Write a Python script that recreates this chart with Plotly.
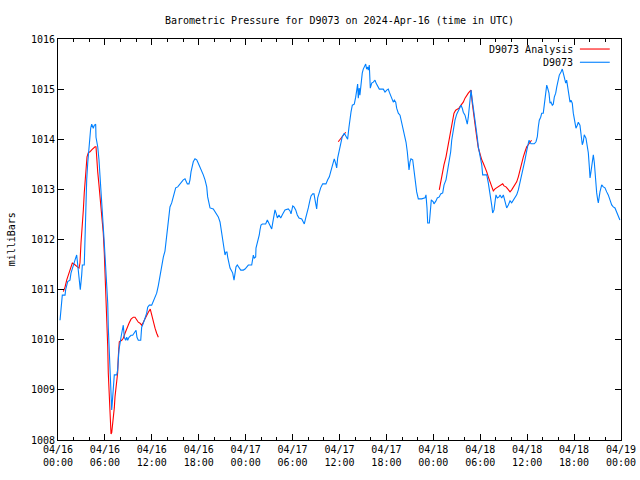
import pandas as pd
import plotly.graph_objects as go

# ---------------- data (hours since 2024-04-16 00:00 UTC, millibars) ----------------
blue_hours = [0.26, 0.47, 0.55, 0.90, 0.98, 1.24, 1.53, 1.66, 1.96, 2.17, 2.39, 2.52, 2.69, 2.81, 2.85,
              3.03, 3.11, 3.36, 3.45, 3.54, 3.67, 3.80, 3.96, 4.00, 4.18, 4.31, 4.51, 4.64, 4.82, 4.86,
              5.08, 5.24, 5.37, 5.50, 5.59, 5.79, 5.92, 6.10, 6.23, 6.36, 6.43, 6.56, 6.69, 6.78, 6.87,
              6.94, 7.07, 7.20, 7.51, 7.63, 7.80, 7.93, 8.06, 8.22, 8.35, 8.48, 8.66, 8.79, 8.91, 9.08,
              9.34, 9.55, 9.76, 9.98, 10.10, 10.27, 10.58, 10.70, 10.91, 11.13, 11.34, 11.47, 11.68, 11.98,
              12.19, 12.41, 12.62, 12.83, 13.04, 13.17, 13.26, 13.47, 13.68, 13.81, 13.90, 14.03, 14.19,
              14.32, 14.54, 14.75, 14.87, 15.05, 15.31, 15.60, 15.82, 16.02, 16.24, 16.37, 16.54, 16.75,
              16.88, 17.01, 17.18, 17.30, 17.52, 17.74, 17.94, 18.16, 18.38, 18.58, 18.80, 19.02, 19.14,
              19.31, 19.44, 19.86, 20.08, 20.30, 20.50, 20.72, 20.85, 21.01, 21.14, 21.27, 21.36, 21.49,
              21.61, 21.70, 21.87, 22.00, 22.21, 22.34, 22.51, 22.64, 22.76, 22.93, 23.15, 23.37, 23.70,
              23.92, 24.13, 24.34, 24.77, 24.90, 24.98, 25.10, 25.28, 25.32, 25.49, 25.62, 25.74, 25.83,
              25.96, 26.13, 26.56, 26.77, 26.95, 27.11, 27.33, 27.46, 27.62, 27.75, 27.88, 28.05, 28.26,
              28.48, 28.74, 29.03, 29.45, 29.67, 29.80, 30.02, 30.18, 30.40, 30.60, 30.82, 31.17, 31.37,
              31.50, 31.68, 31.80, 32.01, 32.23, 32.36, 32.57, 32.74, 32.87, 33.08, 33.21, 33.38, 33.59,
              33.85, 34.27, 34.49, 34.70, 34.87, 35.00, 35.13, 35.33, 35.51, 35.64, 35.77, 35.93, 36.06,
              36.19, 36.35, 36.61, 36.83, 37.04, 37.21, 37.34, 37.47, 37.64, 37.89, 38.07, 38.20, 38.32,
              38.40, 38.52, 38.61, 38.74, 38.91, 39.04, 39.17, 39.35, 39.47, 39.60, 39.68, 39.81, 39.94,
              40.12, 40.32, 40.54, 40.67, 40.89, 41.09, 41.60, 41.82, 42.04, 42.24, 42.37, 42.59, 42.88,
              43.01, 43.19, 43.31, 43.52, 43.74, 43.87, 44.08, 44.25, 44.38, 44.51, 44.67, 44.80, 44.89,
              45.02, 45.14, 45.36, 45.44, 45.57, 45.75, 45.87, 46.08, 46.51, 46.94, 47.06, 47.19, 47.28,
              47.49, 47.61, 47.74, 47.99, 48.08, 48.34, 48.51, 48.76, 48.94, 49.20, 49.37, 49.62, 49.79,
              50.00, 50.22, 50.35, 50.55, 50.77, 50.99, 51.19, 51.41, 51.54, 51.70, 51.83, 52.05, 52.18,
              52.34, 52.47, 52.60, 52.69, 52.82, 52.98, 53.11, 53.33, 53.46, 53.62, 53.75, 53.97, 54.19,
              54.31, 54.83, 55.03, 55.25, 55.46, 55.59, 55.76, 55.89, 56.01, 56.18, 56.40, 56.53, 56.74,
              56.95, 57.17, 57.38, 57.59, 57.81, 58.02, 58.23, 58.45, 58.66, 58.87, 59.08, 59.30, 59.51,
              59.72, 59.94, 60.14, 60.23, 60.49, 60.91, 61.13, 61.30, 61.42, 61.55, 61.73, 61.86, 62.06,
              62.19, 62.37, 62.50, 62.62, 62.79, 62.92, 63.05, 63.21, 63.34, 63.47, 63.65, 63.78, 63.90,
              64.11, 64.33, 64.49, 64.62, 64.75, 64.93, 65.05, 65.18, 65.35, 65.48, 65.60, 65.77, 65.90,
              66.12, 66.24, 66.41, 66.54, 66.75, 66.88, 67.05, 67.17, 67.30, 67.52, 67.69, 67.82, 67.95,
              68.04, 68.16, 68.33, 68.46, 68.59, 68.68, 68.80, 68.89, 69.02, 69.10, 69.31, 69.53, 69.74,
              69.95, 70.17, 70.37, 70.59, 70.81, 71.01, 71.23, 71.44, 71.65, 71.86]
blue_mb = [1010.39, 1010.76, 1010.89, 1010.89, 1011.00, 1011.16, 1011.19, 1011.33, 1011.46, 1011.59, 1011.69,
           1011.49, 1011.29, 1011.13, 1011.00, 1011.29, 1011.49, 1011.49, 1011.99, 1012.69, 1013.19, 1013.52,
           1013.78, 1013.98, 1014.22, 1014.30, 1014.22, 1014.28, 1014.30, 1014.04, 1013.85, 1013.59, 1013.25,
           1012.93, 1012.53, 1012.25, 1011.93, 1011.45, 1011.05, 1010.73, 1010.25, 1009.79, 1009.26, 1008.86,
           1008.60, 1008.74, 1009.06, 1009.30, 1009.30, 1009.40, 1009.80, 1009.96, 1010.05, 1010.19, 1010.29,
           1010.05, 1009.99, 1010.05, 1009.99, 1010.05, 1010.09, 1010.09, 1010.13, 1010.19, 1010.05, 1009.99,
           1009.99, 1010.25, 1010.33, 1010.43, 1010.53, 1010.65, 1010.69, 1010.69, 1010.76, 1010.85, 1010.93,
           1011.08, 1011.28, 1011.39, 1011.53, 1011.65, 1011.77, 1011.95, 1012.15, 1012.35, 1012.55, 1012.65,
           1012.73, 1012.85, 1012.95, 1013.03, 1013.05, 1013.11, 1013.15, 1013.19, 1013.21, 1013.15, 1013.11,
           1013.11, 1013.19, 1013.35, 1013.45, 1013.55, 1013.61, 1013.59, 1013.52, 1013.45, 1013.37, 1013.29,
           1013.19, 1013.05, 1012.85, 1012.73, 1012.63, 1012.61, 1012.55, 1012.49, 1012.45, 1012.35, 1012.23,
           1012.09, 1011.95, 1011.79, 1011.69, 1011.75, 1011.75, 1011.65, 1011.53, 1011.43, 1011.37, 1011.33,
           1011.19, 1011.33, 1011.45, 1011.49, 1011.43, 1011.39, 1011.39, 1011.41, 1011.45, 1011.49, 1011.49,
           1011.59, 1011.69, 1011.63, 1011.65, 1011.83, 1011.93, 1011.99, 1012.09, 1012.19, 1012.29, 1012.31,
           1012.31, 1012.39, 1012.33, 1012.25, 1012.21, 1012.33, 1012.49, 1012.59, 1012.53, 1012.43, 1012.49,
           1012.43, 1012.51, 1012.59, 1012.61, 1012.57, 1012.51, 1012.67, 1012.65, 1012.59, 1012.49, 1012.43,
           1012.41, 1012.35, 1012.31, 1012.43, 1012.53, 1012.63, 1012.79, 1012.87, 1012.91, 1012.91, 1012.79,
           1012.61, 1012.83, 1012.95, 1013.03, 1013.11, 1013.11, 1013.19, 1013.25, 1013.35, 1013.43, 1013.52,
           1013.61, 1013.52, 1013.43, 1013.63, 1013.75, 1013.89, 1013.98, 1014.05, 1014.12, 1014.05, 1014.00,
           1014.24, 1014.42, 1014.54, 1014.68, 1014.70, 1014.84, 1015.02, 1015.10, 1014.82, 1015.02, 1014.88,
           1015.14, 1015.32, 1015.40, 1015.44, 1015.50, 1015.40, 1015.44, 1015.38, 1015.48, 1015.02, 1015.12,
           1015.14, 1015.18, 1015.12, 1015.04, 1015.00, 1015.00, 1014.94, 1014.98, 1015.00, 1014.94, 1014.84,
           1014.74, 1014.78, 1014.74, 1014.62, 1014.52, 1014.48, 1014.38, 1014.28, 1014.14, 1014.04, 1013.94,
           1013.75, 1013.52, 1013.39, 1013.55, 1013.61, 1013.59, 1013.49, 1013.33, 1013.13, 1012.95, 1012.81,
           1012.81, 1012.83, 1012.89, 1012.63, 1012.33, 1012.33, 1012.55, 1012.79, 1012.75, 1012.71, 1012.77,
           1012.83, 1012.85, 1012.91, 1012.93, 1013.09, 1013.19, 1013.33, 1013.52, 1013.75, 1013.98, 1014.18,
           1014.38, 1014.50, 1014.58, 1014.64, 1014.68, 1014.62, 1014.54, 1014.48, 1014.38, 1014.30, 1014.44,
           1014.64, 1014.88, 1014.98, 1014.78, 1014.64, 1014.44, 1014.24, 1014.04, 1013.85, 1013.65, 1013.49,
           1013.29, 1013.29, 1013.13, 1012.93, 1012.69, 1012.53, 1012.59, 1012.75, 1012.89, 1012.83, 1012.85,
           1012.89, 1012.83, 1012.89, 1012.75, 1012.63, 1012.69, 1012.77, 1012.73, 1012.79, 1012.83, 1012.89,
           1012.99, 1013.13, 1013.25, 1013.43, 1013.59, 1013.77, 1013.89, 1013.98, 1013.91, 1013.91, 1013.95,
           1014.05, 1014.24, 1014.38, 1014.44, 1014.52, 1014.52, 1014.68, 1014.82, 1015.08, 1015.02, 1014.92,
           1014.72, 1014.74, 1014.68, 1014.70, 1014.84, 1014.92, 1015.04, 1015.14, 1015.28, 1015.34, 1015.40,
           1015.32, 1015.20, 1015.12, 1015.18, 1015.04, 1014.92, 1014.74, 1014.78, 1014.72, 1014.52, 1014.32,
           1014.22, 1014.28, 1014.34, 1014.28, 1014.12, 1013.89, 1013.95, 1014.09, 1014.02, 1013.89, 1013.73,
           1013.45, 1013.23, 1013.35, 1013.59, 1013.69, 1013.53, 1013.29, 1013.05, 1012.93, 1012.79, 1012.73,
           1012.95, 1013.09, 1013.05, 1013.03, 1012.95, 1012.89, 1012.79, 1012.69, 1012.65, 1012.63, 1012.55,
           1012.45, 1012.39]

# Analysis series: None marks gaps between segments
red_hours = [0.68, 0.90, 1.11, 1.41, 1.66, 1.83, 2.05, 2.26, 2.52, 2.69, 2.81, 2.94, 3.11, 3.24, 3.36, 3.45,
             3.58, 3.71, 3.87, 4.09, 4.31, 4.51, 4.73, 4.86, 4.95, 5.08, 5.24, 5.37, 5.50, 5.67, 5.79, 5.92,
             6.01, 6.14, 6.23, 6.36, 6.43, 6.56, 6.65, 6.78, 6.87, 6.94, 7.07, 7.20, 7.29, 7.51, 7.63, 7.71,
             7.84, 8.15, 8.35, 8.57, 8.79, 9.08, 9.34, 9.63, 9.85, 10.06, 10.27, 10.49, 10.70, 10.91, 11.13,
             11.34, 11.55, 11.80, 11.98, 12.19, 12.41, 12.62, 12.83,
             None,
             35.84, 36.79,
             None,
             48.76, 48.94, 49.14, 49.36, 49.62, 49.83, 50.04, 50.26, 50.48, 50.64, 50.86, 51.06, 51.28, 51.54,
             51.83, 52.05, 52.27, 52.47, 52.69, 52.82, 52.98, 53.11, 53.24, 53.37, 53.55, 53.75, 53.97, 54.19,
             54.39, 54.61, 54.83, 55.03, 55.25, 55.46, 55.67, 55.89, 56.10, 56.31, 56.62, 56.87, 57.04, 57.29,
             57.51, 57.81, 58.02, 58.23, 58.45, 58.66, 58.87, 59.08, 59.30, 59.51, 59.72, 59.94, 60.14, 60.35,
             60.56]
red_mb = [1010.96, 1011.05, 1011.19, 1011.35, 1011.49, 1011.53, 1011.51, 1011.49, 1011.45, 1011.43, 1011.53,
          1011.93, 1012.25, 1012.59, 1012.93, 1013.13, 1013.43, 1013.65, 1013.73, 1013.75, 1013.79, 1013.83,
          1013.85, 1013.85, 1013.55, 1013.35, 1013.09, 1012.89, 1012.63, 1012.35, 1012.13, 1011.73, 1011.39,
          1010.85, 1010.39, 1009.86, 1009.34, 1008.80, 1008.34, 1008.12, 1008.15, 1008.25, 1008.40, 1008.64,
          1008.86, 1009.14, 1009.34, 1009.66, 1009.96, 1009.99, 1010.03, 1010.13, 1010.23, 1010.33, 1010.41,
          1010.45, 1010.45, 1010.39, 1010.35, 1010.33, 1010.29, 1010.35, 1010.43, 1010.49, 1010.55, 1010.61,
          1010.49, 1010.35, 1010.23, 1010.13, 1010.05,
          None,
          1013.95, 1014.14,
          None,
          1012.99, 1013.15, 1013.33, 1013.49, 1013.65, 1013.82, 1013.98, 1014.18, 1014.34, 1014.52, 1014.58,
          1014.60, 1014.62, 1014.68, 1014.74, 1014.82, 1014.88, 1014.92, 1014.96, 1014.98, 1014.72, 1014.54,
          1014.42, 1014.24, 1014.04, 1013.83, 1013.69, 1013.59, 1013.52, 1013.45, 1013.35, 1013.25, 1013.15,
          1013.05, 1012.97, 1013.01, 1013.03, 1013.05, 1013.09, 1013.11, 1013.07, 1013.05, 1013.01, 1012.95,
          1012.99, 1013.05, 1013.09, 1013.15, 1013.25, 1013.39, 1013.52, 1013.65, 1013.75, 1013.85, 1013.89,
          1013.95, 1013.98]

tick_hours = [0, 6, 12, 18, 24, 30, 36, 42, 48, 54, 60, 66, 72]
tick_labels = ["04/16<br>00:00", "04/16<br>06:00", "04/16<br>12:00", "04/16<br>18:00",
               "04/17<br>00:00", "04/17<br>06:00", "04/17<br>12:00", "04/17<br>18:00",
               "04/18<br>00:00", "04/18<br>06:00", "04/18<br>12:00", "04/18<br>18:00",
               "04/19<br>00:00"]
series_names = ["D9073 Analysis", "D9073"]
title_text = "Barometric Pressure for D9073 on 2024-Apr-16 (time in UTC)"
y_title = "milliBars"

# ---------------- build ----------------
BASE = pd.Timestamp("2024-04-16 00:00")


def to_time(hours):
    return [None if h is None else BASE + pd.to_timedelta(h, unit="h") for h in hours]


RED = "#ff0000"
BLUE = "#0080ff"
FONT = "DejaVu Sans Mono"

fig = go.Figure()
fig.add_trace(go.Scatter(x=to_time(red_hours), y=red_mb, mode="lines",
                         line=dict(color=RED, width=1.1), name=series_names[0],
                         connectgaps=False))
fig.add_trace(go.Scatter(x=to_time(blue_hours), y=blue_mb, mode="lines",
                         line=dict(color=BLUE, width=1.1), name=series_names[1],
                         connectgaps=False))

axis_common = dict(showline=True, linecolor="black", linewidth=1, mirror="allticks",
                   ticks="inside", tickcolor="black", showgrid=False, zeroline=False,
                   automargin=False,
                   tickfont=dict(family=FONT, size=10, color="black"))

fig.update_xaxes(range=[BASE, BASE + pd.to_timedelta(72, unit="h")],
                 tickvals=to_time(tick_hours), ticktext=tick_labels, ticklen=6,
                 minor=dict(ticks="inside", dtick=2 * 3600 * 1000, ticklen=3, tickcolor="black",
                            tick0=BASE),
                 **axis_common)
fig.update_yaxes(range=[1008, 1016], dtick=1, ticklen=6,
                 **axis_common)

# legend drawn gnuplot-style (text, then line sample on the right)
legend_rows = [(0.975, series_names[0], RED), (0.942, series_names[1], BLUE)]
for yy, name, col in legend_rows:
    fig.add_annotation(xref="paper", yref="paper", x=0.918, y=yy, text=name, showarrow=False,
                       xanchor="right", yanchor="middle",
                       font=dict(family=FONT, size=10, color="black"))
    fig.add_shape(type="line", xref="paper", yref="paper", x0=0.927, x1=0.980, y0=yy, y1=yy,
                  line=dict(color=col, width=1.1))

fig.add_annotation(xref="paper", yref="paper", x=-0.082, y=0.5, text=y_title, textangle=-90,
                   showarrow=False, xanchor="center", yanchor="middle",
                   font=dict(family=FONT, size=10, color="black"))

fig.update_layout(
    width=640, height=480,
    margin=dict(l=58, r=19, t=39, b=40),
    paper_bgcolor="white", plot_bgcolor="white",
    showlegend=False,
    title=dict(text=title_text, x=0.5, xref="paper", y=1 - 20 / 480, yref="container",
               xanchor="center", yanchor="middle",
               font=dict(family=FONT, size=10, color="black")),
)

# remove the browser's default 8px page margin so the figure sits at the window origin
fig.write_html("out.html",
               config={"displayModeBar": False},
               post_script="document.body.style.margin='0';document.body.style.overflow='hidden';")
